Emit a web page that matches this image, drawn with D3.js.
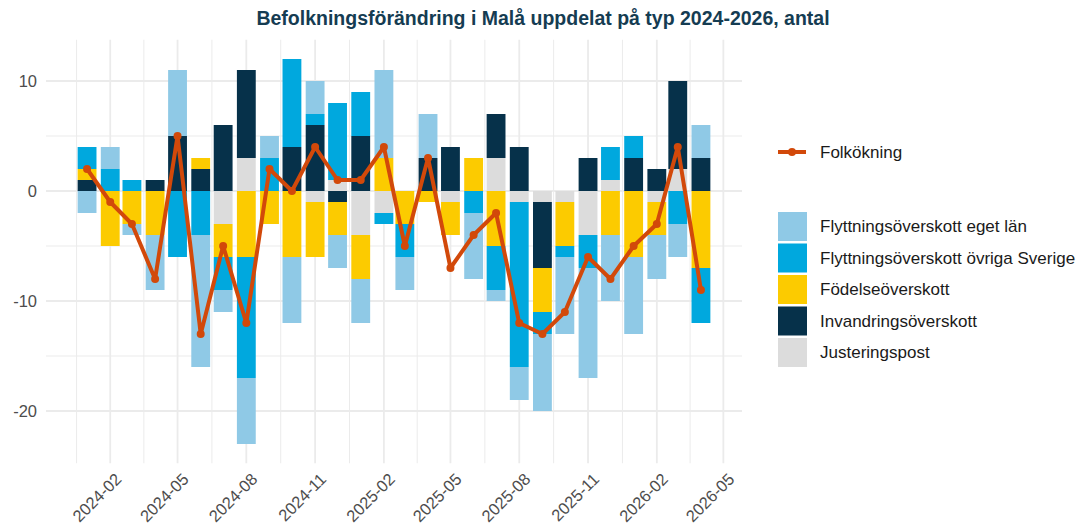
<!DOCTYPE html>
<html lang="sv">
<head>
  <meta charset="UTF-8">
  <title>Befolkningsförändring i Malå</title>
  <style>
    body { margin: 0; background: #fff; font-family: "Liberation Sans", Arial, sans-serif; }
    .grid line { stroke: #ebebeb; }
    .axis text { fill: #4d4d4d; font-size: 16.5px; }
    .legend text { fill: #1a1a1a; font-size: 17px; }
  </style>
</head>
<body>
<div id="chart"></div>
<script src="https://cdn.jsdelivr.net/npm/d3@7"></script>
<script>
  const months = ["2024-01", "2024-02", "2024-03", "2024-04", "2024-05", "2024-06", "2024-07",
    "2024-08", "2024-09", "2024-10", "2024-11", "2024-12", "2025-01", "2025-02", "2025-03",
    "2025-04", "2025-05", "2025-06", "2025-07", "2025-08", "2025-09", "2025-10", "2025-11",
    "2025-12", "2026-01", "2026-02", "2026-03", "2026-04"];

  const egetLan   = [-2, 2, -1, -5, 6, -12, -2, -6, 2, -6, 3, -3, -4, 8, -3, 4, 0, -6, -1, -3, -7, -7, -10, -6, -7, -4, -3, 3];
  const ovrigaSve = [2, 2, 1, 0, -6, -4, -3, -11, 3, 8, 1, 7, 4, -1, -3, 0, 0, -2, -4, -15, -2, -1, -3, 3, 2, 0, -3, -5];
  const fodelse   = [1, -5, -3, -4, 0, 1, -3, -6, -3, -6, -5, -3, -4, 3, -3, -1, -3, 3, -5, 0, -4, -4, 0, -4, -6, -3, 0, -7];
  const invandr   = [1, 0, 0, 1, 5, 2, 6, 8, 0, 4, 6, -1, 5, 0, 0, 3, 4, 0, 4, 4, -6, 0, 3, 0, 3, 2, 8, 3];
  const justering = [0, 0, 0, 0, 0, 0, -3, 3, 0, 0, -1, 1, -4, -2, 0, 0, -1, 0, 3, -1, -1, -1, -4, 1, 0, -1, 2, 0];
  const folkokning = [2, -1, -3, -8, 5, -13, -5, -12, 2, 0, 4, 1, 1, 4, -5, 3, -7, -4, -2, -12, -13, -11, -6, -8, -5, -3, 4, -9];

  const seriesNames = ["Flyttningsöverskott eget län", "Flyttningsöverskott övriga Sverige",
    "Födelseöverskott", "Invandringsöverskott", "Justeringspost"];
  const seriesColors = ["#8fc9e6", "#00a8de", "#fccb00", "#06314a", "#dcdcdc"];
  const lineName = "Folkökning";
  const lineColor = "#d2490a";

  const yTicks = [-20, -10, 0, 10];
  const yMinor = [-15, -5, 5];
  const xTickLabels = ["2024-02", "2024-05", "2024-08", "2024-11", "2025-02", "2025-05",
    "2025-08", "2025-11", "2026-02", "2026-05"];

  const width = 1084, height = 529;
  const panel = { left: 46, right: 742 };
  const parse = d3.timeParse("%Y-%m");
  const DAY = 86400000;

  const rows = months.map((m, i) => ({
    date: parse(m),
    [seriesNames[0]]: egetLan[i],
    [seriesNames[1]]: ovrigaSve[i],
    [seriesNames[2]]: fodelse[i],
    [seriesNames[3]]: invandr[i],
    [seriesNames[4]]: justering[i],
    total: folkokning[i]
  }));

  // stack from the axis outward: Justering, Invandring, Födelse, övriga, eget län
  const stackKeys = seriesNames.slice().reverse();
  const stacked = d3.stack().keys(stackKeys).offset(d3.stackOffsetDiverging)(rows);

  const barDays = 0.9 * 28;
  const first = rows[0].date.getTime() - barDays / 2 * DAY;
  const last = rows[rows.length - 1].date.getTime() + barDays / 2 * DAY;
  const xPad = (last - first) * 0.05;
  const x = d3.scaleTime()
    .domain([new Date(first - xPad), new Date(last + xPad)])
    .range([panel.left, panel.right]);

  const yLo = d3.min(stacked, s => d3.min(s, d => d[0]));
  const yHi = d3.max(stacked, s => d3.max(s, d => d[1]));
  const yPad = (yHi - yLo) * 0.05;
  const y = d3.scaleLinear().domain([yLo - yPad, yHi + yPad]).range([463.25, 39.75]);

  const svg = d3.select("#chart").append("svg")
    .attr("width", width).attr("height", height);

  svg.append("text")
    .attr("x", 543).attr("y", 25)
    .attr("text-anchor", "middle")
    .attr("fill", "#153c52")
    .attr("font-size", 19.5).attr("font-weight", "bold")
    .text("Befolkningsförändring i Malå uppdelat på typ 2024-2026, antal");

  // grid
  const xMajor = xTickLabels.map(parse);
  const xMinorT = xMajor.slice(0, -1).map((d, i) => new Date((d.getTime() + xMajor[i + 1].getTime()) / 2));
  xMinorT.unshift(new Date(xMajor[0].getTime() - (xMajor[1].getTime() - xMajor[0].getTime()) / 2));

  const grid = svg.append("g").attr("class", "grid");
  grid.selectAll(".hmin").data(yMinor).enter().append("line")
    .attr("x1", panel.left).attr("x2", panel.right)
    .attr("y1", d => y(d)).attr("y2", d => y(d)).attr("stroke-width", 1);
  grid.selectAll(".hmaj").data(yTicks).enter().append("line")
    .attr("x1", panel.left).attr("x2", panel.right)
    .attr("y1", d => y(d)).attr("y2", d => y(d)).attr("stroke-width", 1.8);
  grid.selectAll(".vmin").data(xMinorT.filter(d => x(d) > panel.left)).enter().append("line")
    .attr("y1", y.range()[0]).attr("y2", y.range()[1])
    .attr("x1", d => x(d)).attr("x2", d => x(d)).attr("stroke-width", 1);
  grid.selectAll(".vmaj").data(xMajor).enter().append("line")
    .attr("y1", y.range()[0]).attr("y2", y.range()[1])
    .attr("x1", d => x(d)).attr("x2", d => x(d)).attr("stroke-width", 1.8);

  // bars
  const barW = x(new Date(barDays * DAY)) - x(new Date(0));
  svg.append("g").selectAll("g")
    .data(stacked).enter().append("g")
    .attr("fill", s => seriesColors[seriesNames.indexOf(s.key)])
    .selectAll("rect")
    .data(s => s.filter(d => d[1] !== d[0]))
    .enter().append("rect")
    .attr("x", d => x(d.data.date) - barW / 2)
    .attr("width", barW)
    .attr("y", d => y(d[1]))
    .attr("height", d => y(d[0]) - y(d[1]));

  // line
  const line = d3.line().x(d => x(d.date)).y(d => y(d.total));
  svg.append("path").datum(rows)
    .attr("d", line)
    .attr("fill", "none")
    .attr("stroke", lineColor)
    .attr("stroke-width", 4)
    .attr("stroke-linejoin", "round");
  svg.append("g").selectAll("circle").data(rows).enter().append("circle")
    .attr("cx", d => x(d.date)).attr("cy", d => y(d.total))
    .attr("r", 4).attr("fill", lineColor);

  // axes
  const yAxis = svg.append("g").attr("class", "axis");
  yAxis.selectAll("text").data(yTicks).enter().append("text")
    .attr("x", 37).attr("y", d => y(d))
    .attr("dy", "0.35em")
    .attr("text-anchor", "end")
    .text(d => d);

  const xAxis = svg.append("g").attr("class", "axis");
  xAxis.selectAll("text").data(xMajor).enter().append("text")
    .attr("transform", d => `translate(${x(d) + 4},${472}) rotate(-45)`)
    .attr("text-anchor", "end")
    .attr("dy", "0.7em")
    .text(d => d3.timeFormat("%Y-%m")(d));

  // legend
  const legend = svg.append("g").attr("class", "legend");
  legend.append("line")
    .attr("x1", 778).attr("x2", 806).attr("y1", 152).attr("y2", 152)
    .attr("stroke", lineColor).attr("stroke-width", 4);
  legend.append("circle").attr("cx", 792).attr("cy", 152).attr("r", 4).attr("fill", lineColor);
  legend.append("text").attr("x", 820).attr("y", 152).attr("dy", "0.35em").text(lineName);

  const items = legend.selectAll(".item").data(seriesNames).enter().append("g")
    .attr("transform", (d, i) => `translate(778,${212 + i * 31.5})`);
  items.append("rect").attr("width", 29).attr("height", 29)
    .attr("fill", (d, i) => seriesColors[i]);
  items.append("text").attr("x", 42).attr("y", 14.5).attr("dy", "0.35em").text(d => d);
</script>
</body>
</html>
